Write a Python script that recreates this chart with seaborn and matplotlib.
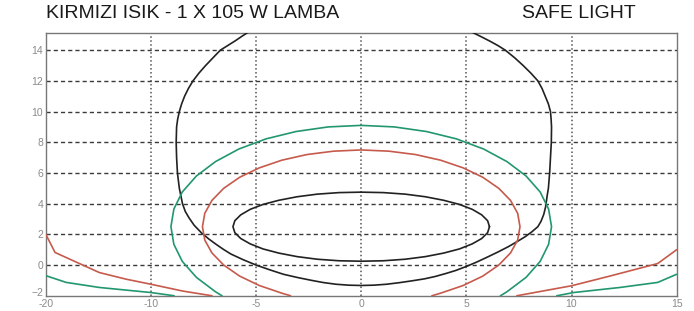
import matplotlib
matplotlib.use("Agg")
import matplotlib.pyplot as plt
import matplotlib.transforms as mtransforms
import seaborn as sns
import pandas as pd

# ---- data ----
x_tick_pos = [-15, -10, -5, 0, 5, 10, 15]
x_tick_labels = ["-20", "-10", "-5", "0", "5", "10", "15"]
y_ticks = [-2, 0, 2, 4, 6, 8, 10, 12, 14]

outer_black_x = [-5.4, -5.7, -6.0, -6.35, -6.7, -7.05, -7.4, -7.72, -8.0, -8.22, -8.4, -8.54, -8.65, -8.73,
                 -8.78, -8.8, -8.78, -8.74, -8.65, -8.5, -8.37, -8.2, -7.95, -7.6, -7.25, -6.9, -6.55,
                 -6.2, -5.6, -5.0, -4.35, -3.7, -3.0, -2.35, -1.8, -1.2, -0.6, 0.0, 0.6, 1.2, 1.8, 2.4,
                 3.0, 3.5, 4.0, 4.5, 5.0, 5.5, 6.0, 6.5, 7.0, 7.5, 7.8, 8.1, 8.4, 8.55, 8.68, 8.77,
                 8.84, 8.9, 8.96, 9.0, 9.04, 9.05, 9.03, 9.0, 8.9, 8.75, 8.6, 8.4, 8.07, 7.7, 7.3,
                 6.85, 6.5, 6.1, 5.7, 5.3]
outer_black_y = [15.15, 14.88, 14.6, 14.3, 14.0, 13.5, 13.0, 12.5, 12.0, 11.5, 11.0, 10.5, 10.0, 9.5,
                 9.0, 8.0, 7.0, 6.0, 5.0, 4.0, 3.5, 3.1, 2.6, 2.1, 1.7, 1.35, 1.02,
                 0.72, 0.34, 0.0, -0.31, -0.6, -0.82, -1.0, -1.14, -1.25, -1.31, -1.33, -1.31, -1.25, -1.15, -1.03,
                 -0.9, -0.75, -0.56, -0.35, -0.09, 0.2, 0.52, 0.85, 1.2, 1.6, 1.85, 2.15, 2.5, 2.85, 3.3, 3.8,
                 4.5, 5.0, 6.0, 7.0, 8.0, 9.0, 9.5, 10.0, 10.5, 11.0, 11.5, 12.0, 12.5, 13.0, 13.5,
                 14.0, 14.3, 14.6, 14.88, 15.15]

inner_black_x = [6.1, 6.01, 5.73, 5.28, 4.67, 3.92, 3.05, 2.09, 1.06, 0.0, -1.06, -2.09, -3.05, -3.92,
                 -4.67, -5.28, -5.73, -6.01, -6.1, -6.01, -5.73, -5.28, -4.67, -3.92, -3.05, -2.09,
                 -1.06, 0.0, 1.06, 2.09, 3.05, 3.92, 4.67, 5.28, 5.73, 6.01, 6.1]
inner_black_y = [2.5, 2.89, 3.27, 3.63, 3.95, 4.22, 4.45, 4.62, 4.72, 4.75, 4.72, 4.62, 4.45, 4.22,
                 3.95, 3.63, 3.27, 2.89, 2.5, 2.11, 1.73, 1.38, 1.05, 0.78, 0.55, 0.38,
                 0.28, 0.25, 0.28, 0.38, 0.55, 0.78, 1.05, 1.38, 1.73, 2.11, 2.5]

red_loop_x = [-3.36, -3.78, -4.85, -5.78, -6.54, -7.10, -7.44, -7.55, -7.44, -7.10, -6.54, -5.78,
              -4.85, -3.78, -2.58, -1.31, 0.0, 1.31, 2.58, 3.78, 4.85, 5.78, 6.54, 7.10, 7.44, 7.55,
              7.44, 7.10, 6.54, 5.78, 4.85, 3.78, 3.36]
red_loop_y = [-2.0, -1.83, -1.33, -0.72, 0.0, 0.79, 1.63, 2.5, 3.37, 4.21, 5.0, 5.72,
              6.33, 6.83, 7.2, 7.42, 7.5, 7.42, 7.2, 6.83, 6.33, 5.72, 5.0, 4.21, 3.37, 2.5,
              1.63, 0.79, 0.0, -0.72, -1.33, -1.83, -2.0]

green_loop_x = [-6.62, -6.93, -7.84, -8.51, -8.91, -9.05, -8.91, -8.51, -7.84, -6.93, -5.82, -4.53,
                -3.10, -1.57, 0.0, 1.57, 3.10, 4.53, 5.82, 6.93, 7.84, 8.51, 8.91, 9.05, 8.91, 8.51,
                7.84, 6.93, 6.62]
green_loop_y = [-2.0, -1.74, -0.8, 0.24, 1.35, 2.5, 3.65, 4.76, 5.8, 6.74, 7.56, 8.22,
                8.70, 9.0, 9.1, 9.0, 8.70, 8.22, 7.56, 6.74, 5.8, 4.76, 3.65, 2.5, 1.35, 0.24,
                -0.8, -1.74, -2.0]

red_left_x = [-15.0, -14.56, -14.03, -13.16, -12.45, -11.18, -10.0, -8.5, -7.1]
red_left_y = [2.0, 0.82, 0.49, -0.05, -0.49, -0.92, -1.25, -1.69, -2.0]
green_left_x = [-15.0, -14.03, -12.45, -10.0, -8.9]
green_left_y = [-0.69, -1.13, -1.46, -1.79, -2.0]
red_right_x = [7.4, 10.0, 11.9, 14.1, 15.0]
red_right_y = [-2.0, -1.35, -0.69, 0.1, 1.0]
green_right_x = [9.3, 10.1, 12.3, 14.1, 15.0]
green_right_y = [-2.0, -1.79, -1.46, -1.13, -0.6]

BLACK = "#222222"
RED = "#c65a4c"
GREEN = "#22976f"

curves = [
    (outer_black_x, outer_black_y, BLACK),
    (inner_black_x, inner_black_y, BLACK),
    (red_loop_x, red_loop_y, RED),
    (green_loop_x, green_loop_y, GREEN),
    (red_left_x, red_left_y, RED),
    (green_left_x, green_left_y, GREEN),
    (red_right_x, red_right_y, RED),
    (green_right_x, green_right_y, GREEN),
]

sns.set_theme(style="white")
plt.rcParams["font.family"] = ["Liberation Sans", "DejaVu Sans"]

fig, ax = plt.subplots(figsize=(6.94, 3.11), dpi=100)
fig.subplots_adjust(left=0.066, right=0.975, top=0.893, bottom=0.049)

ax.set_xlim(-15, 15)
ax.set_ylim(-2, 15.1)

# grid
for yv in y_ticks[1:]:
    ax.axhline(yv, color="#3a3a3a", lw=1.0, ls=(0, (3, 2.2)), zorder=1)
for xv in x_tick_pos[1:-1]:
    ax.axvline(xv, color="#555555", lw=1.1, ls=(0, (1, 1.6)), zorder=1)

for cx, cy, col in curves:
    df = pd.DataFrame({"x": cx, "y": cy})
    sns.lineplot(data=df, x="x", y="y", sort=False, estimator=None, color=col,
                 lw=1.2, ax=ax, zorder=3)

ax.set_xticks(x_tick_pos)
ax.set_xticklabels(x_tick_labels)
ax.set_yticks(y_ticks)
ax.set_xlabel("")
ax.set_ylabel("")
ax.tick_params(axis="both", length=0, labelsize=7.5, labelcolor="#8a8a8a", pad=2)
ax.tick_params(axis="x", pad=2.5)

# nudge the lowest y label up slightly, as in the reference
fig.canvas.draw()
lowest = ax.get_yticklabels()[0]
lowest.set_transform(lowest.get_transform() +
                     mtransforms.ScaledTranslation(0, 3 / 72, fig.dpi_scale_trans))

for sp in ax.spines.values():
    sp.set_color("#777777")
    sp.set_linewidth(1.0)
    sp.set_visible(True)

fig.text(46 / 694, 1 - 13 / 311, "KIRMIZI ISIK - 1 X 105 W LAMBA", fontsize=14,
         color="#1a1a1a", va="center", ha="left")
fig.text(522 / 694, 1 - 13 / 311, "SAFE LIGHT", fontsize=14,
         color="#1a1a1a", va="center", ha="left")

fig.savefig("out.png", dpi=100)
